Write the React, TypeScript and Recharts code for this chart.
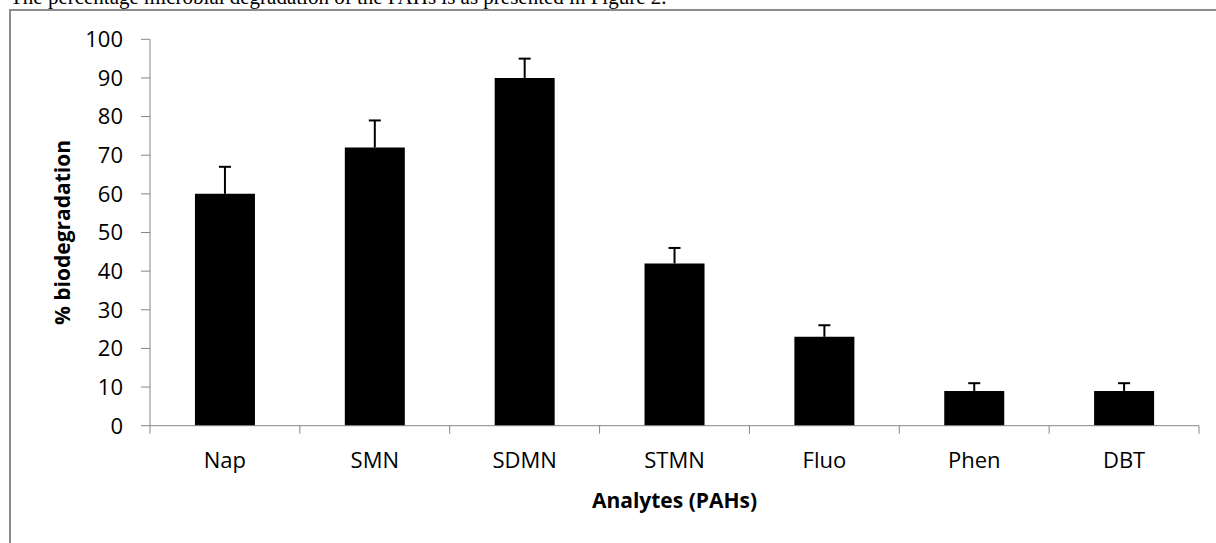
import { BarChart, Bar, XAxis, YAxis, ErrorBar } from "recharts";

const analytes = ["Nap", "SMN", "SDMN", "STMN", "Fluo", "Phen", "DBT"];
const biodegradation = [60, 72, 90, 42, 23, 9, 9];
const upperError = [7, 7, 5, 4, 3, 2, 2];
const yTicks = [0, 10, 20, 30, 40, 50, 60, 70, 80, 90, 100];

// only the upper whisker is shown in the figure
const data = analytes.map((name, i) => ({
  name,
  value: biodegradation[i],
  err: [0, upperError[i]],
}));

const W = 1216;
const H = 543;
const PLOT_LEFT = 150;
const PLOT_RIGHT = 1199;
const BAND = (PLOT_RIGHT - PLOT_LEFT) / analytes.length;
const FONT = "'Open Sans', sans-serif";
const AXIS = "#868686";

function CategoryTick(props: any) {
  const { x, y, payload, index } = props;
  const last = index === analytes.length - 1;
  return (
    <g>
      <line x1={x - BAND / 2} x2={x - BAND / 2} y1={y} y2={y + 8} stroke={AXIS} />
      {last && <line x1={x + BAND / 2} x2={x + BAND / 2} y1={y} y2={y + 8} stroke={AXIS} />}
      <text x={x} y={y + 42.5} textAnchor="middle" fontSize={22} fill="#000" fontFamily={FONT}>
        {payload.value}
      </text>
    </g>
  );
}

export default function App() {
  return (
    <div
      style={{
        position: "absolute",
        left: 0,
        top: 0,
        width: W,
        height: H,
        overflow: "hidden",
        background: "#fff",
      }}
    >
      <style>{`.recharts-errorBar line:nth-child(3) { display: none; }`}</style>
      <div
        style={{
          position: "absolute",
          left: 10,
          top: -12.6,
          fontFamily: "'Liberation Serif', serif",
          fontSize: 21,
          lineHeight: "21px",
          whiteSpace: "nowrap",
          color: "#000",
        }}
      >
        The percentage microbial degradation of the PAHs is as presented in Figure 2.
      </div>
      <div
        style={{
          position: "absolute",
          left: 9,
          top: 9,
          width: 1400,
          height: 700,
          borderLeft: "2px solid #8c8c8c",
          borderTop: "2px solid #8c8c8c",
        }}
      />
      <div style={{ position: "absolute", left: 0, top: 0 }}>
        <BarChart
          width={W}
          height={H}
          data={data}
          margin={{ top: 39.3, right: W - PLOT_RIGHT, left: PLOT_LEFT - 60, bottom: 77.3 }}
          barCategoryGap="30%"
        >
          <XAxis
            dataKey="name"
            height={40}
            tickLine={false}
            tickSize={0}
            tickMargin={0}
            axisLine={{ stroke: AXIS }}
            tick={<CategoryTick />}
            interval={0}
            label={{
              value: "Analytes (PAHs)",
              content: () => (
                <text
                  x={(PLOT_LEFT + PLOT_RIGHT) / 2}
                  y={508.3}
                  textAnchor="middle"
                  fontSize={21}
                  fontWeight="bold"
                  fontFamily={FONT}
                  fill="#000"
                >
                  Analytes (PAHs)
                </text>
              ),
            }}
          />
          <YAxis
            width={60}
            domain={[0, 100]}
            ticks={yTicks}
            interval={0}
            tickSize={9}
            tickMargin={18}
            axisLine={{ stroke: AXIS }}
            tickLine={{ stroke: AXIS }}
            tick={{ fontSize: 22, fill: "#000", fontFamily: FONT }}
            label={{
              value: "% biodegradation",
              content: (p: any) => {
                const vb = p.viewBox;
                const cx = 62;
                const cy = vb.y + vb.height / 2;
                return (
                  <text
                    x={cx}
                    y={cy}
                    transform={`rotate(-90 ${cx} ${cy})`}
                    textAnchor="middle"
                    dominantBaseline="central"
                    fontSize={21}
                    fontWeight="bold"
                    fontFamily={FONT}
                    fill="#000"
                  >
                    % biodegradation
                  </text>
                );
              },
            }}
          />
          <Bar dataKey="value" fill="#000" isAnimationActive={false}>
            <ErrorBar dataKey="err" width={6} stroke="#000" strokeWidth={2} isAnimationActive={false} />
          </Bar>
        </BarChart>
      </div>
    </div>
  );
}
